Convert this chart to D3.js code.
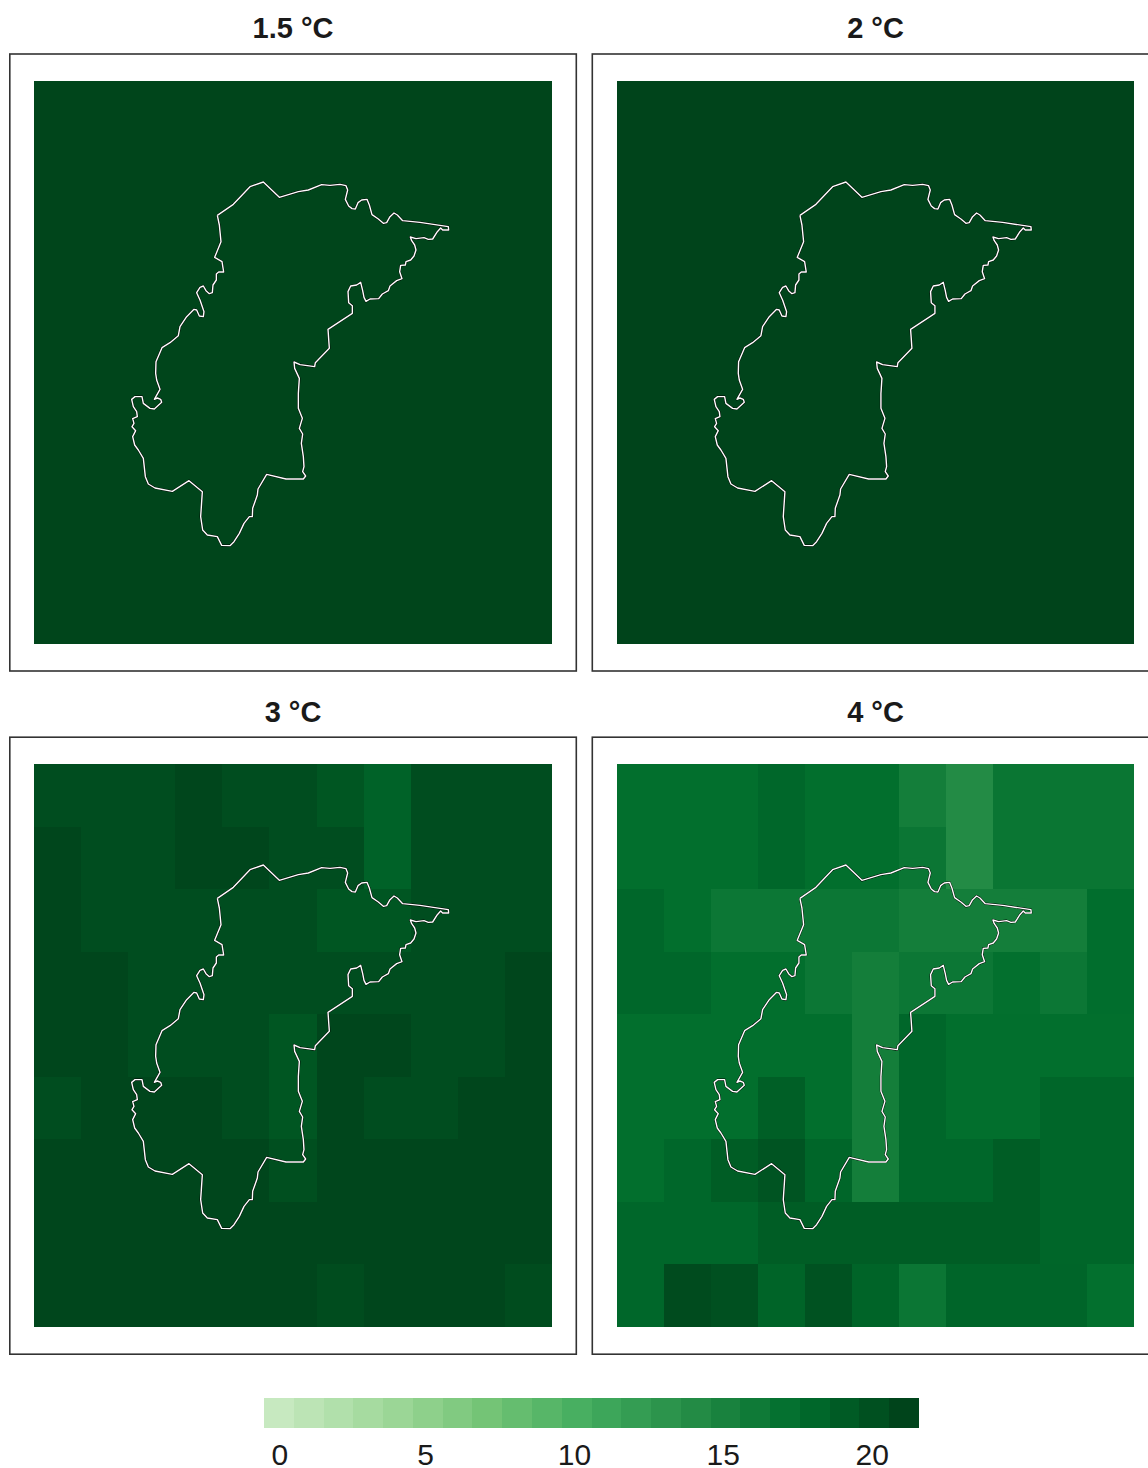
<!DOCTYPE html>
<html>
<head>
<meta charset="utf-8">
<script src="https://cdn.jsdelivr.net/npm/d3@7"></script>
<style>
  html, body { margin: 0; padding: 0; background: #fff; }
  svg { display: block; }
  text { font-family: "Liberation Sans", Arial, sans-serif; fill: #1a1a1a; }
</style>
</head>
<body>
<div id="chart"></div>
<script>
// panel titles
var titles = ["1.5 °C", "2 °C", "3 °C", "4 °C"];

// grid values, 9 rows of 11 cells
var grid15 = [
  [20.9,20.9,20.9,20.9,20.9,20.9,20.9,20.9,20.9,20.9,20.9],
  [20.9,20.9,20.9,20.9,20.9,20.9,20.9,20.9,20.9,20.9,20.9],
  [20.9,20.9,20.9,20.9,20.9,20.9,20.9,20.9,20.9,20.9,20.9],
  [20.9,20.9,20.9,20.9,20.9,20.9,20.9,20.9,20.9,20.9,20.9],
  [20.9,20.9,20.9,20.9,20.9,20.9,20.9,20.9,20.9,20.9,20.9],
  [20.9,20.9,20.9,20.9,20.9,20.9,20.9,20.9,20.9,20.9,20.9],
  [20.9,20.9,20.9,20.9,20.9,20.9,20.9,20.9,20.9,20.9,20.9],
  [20.9,20.9,20.9,20.9,20.9,20.9,20.9,20.9,20.9,20.9,20.9],
  [20.9,20.9,20.9,20.9,20.9,20.9,20.9,20.9,20.9,20.9,20.9]
];
var grid2 = [
  [21,21,21,21,21,21,21,21,21,21,21],
  [21,21,21,21,21,21,21,21,21,21,21],
  [21,21,21,21,21,21,21,21,21,21,21],
  [21,21,21,21,21,21,21,21,21,21,21],
  [21,21,21,21,21,21,21,21,21,21,21],
  [21,21,21,21,21,21,21,21,21,21,21],
  [21,21,21,21,21,21,21,21,21,21,21],
  [21,21,21,21,21,21,21,21,21,21,21],
  [21,21,21,21,21,21,21,21,21,21,21]
];
var grid3 = [
  [20.2,20.2,20.2,20.8,20.2,20.2,19.5,18.4,20.2,20.2,20.2],
  [20.8,20.2,20.2,20.8,20.8,20.2,20.2,18.4,20.2,20.2,20.2],
  [20.8,20.2,20.2,20.2,20.2,20.2,19.5,19.5,20.2,20.2,20.2],
  [20.8,20.8,20.2,20.2,20.2,20.2,20.2,20.2,20.2,20.2,20.8],
  [20.8,20.8,20.2,20.2,20.2,19.5,20.8,20.8,20.2,20.2,20.8],
  [20.2,20.8,20.8,20.8,20.2,19.5,20.8,20.2,20.2,20.8,20.8],
  [20.8,20.8,20.8,20.8,20.8,20.1,20.8,20.8,20.8,20.8,20.8],
  [20.8,20.8,20.8,20.8,20.8,20.8,20.8,20.8,20.8,20.8,20.8],
  [20.8,20.8,20.8,20.8,20.8,20.8,20.3,20.8,20.8,20.8,20.3]
];
var grid4 = [
  [17.3,17.3,17.3,18,17.3,17.3,15.5,14,16.5,16.5,16.5],
  [17.3,17.3,17.3,18,17.3,17.3,16.4,14,16.5,16.5,16.5],
  [18,17.3,16.3,16.3,16.3,16.3,15.5,15.5,15.5,15.5,17.4],
  [18,18,17.3,17.3,16.3,15.5,16.3,16.3,17.2,16.3,17.4],
  [17.3,17.3,17.3,17.3,17.3,15.5,18,17.3,17.3,17.3,17.3],
  [17.3,17.3,17.3,18.7,17.3,15.5,18,17.3,17.3,18.1,18.1],
  [17.3,18,18.9,19.6,18.1,15.5,18,18,18.9,18.1,18.1],
  [18,18,18,18.9,18.9,18.9,18.9,18.9,18.9,18.1,18.1],
  [18,20.4,20,18.3,19.8,18.3,16.4,18.2,18.2,18.2,17.2]
];
var grids = [grid15, grid2, grid3, grid4];

// study area boundary, map units east and south of the grid corner
var outline = [
  [550,403],[598,370],[648,317],[688,303],[736,349],[793,332],[823,327],[863,311],[888,313],[918,310],
  [936,314],[941,327],[934,355],[944,375],[954,383],[964,384],[972,365],[983,357],[999,355],[1006,372],
  [1014,401],[1033,414],[1048,427],[1058,425],[1068,407],[1080,396],[1090,402],[1106,419],[1158,424],[1243,437],
  [1244,447],[1226,447],[1220,441],[1210,452],[1196,474],[1183,475],[1170,470],[1146,473],[1129,468],[1133,479],
  [1142,492],[1146,507],[1140,525],[1130,537],[1116,542],[1114,552],[1100,553],[1097,572],[1104,593],[1088,599],
  [1068,615],[1063,629],[1045,639],[1034,653],[1008,654],[996,661],[990,649],[986,629],[980,604],[968,612],
  [950,615],[942,632],[944,665],[955,674],[955,697],[882,745],[886,802],[844,845],[842,857],[798,851],
  [780,843],[782,862],[796,892],[793,937],[793,982],[805,1012],[796,1042],[806,1059],[802,1087],[808,1127],
  [810,1157],[806,1172],[815,1185],[808,1194],[756,1194],[698,1180],[672,1224],[670,1242],[656,1282],[655,1307],
  [646,1307],[630,1327],[616,1357],[600,1382],[588,1394],[563,1393],[550,1367],[520,1362],[506,1347],[500,1307],
  [505,1232],[465,1199],[415,1231],[363,1221],[343,1209],[334,1187],[328,1132],[313,1107],[302,1092],[296,1067],
  [305,1049],[294,1037],[300,1027],[296,1013],[310,1007],[308,992],[298,977],[293,955],[303,947],[324,947],
  [328,967],[348,982],[361,984],[383,964],[380,955],[370,951],[361,955],[378,925],[368,897],[365,877],
  [366,842],[384,800],[408,785],[433,764],[438,737],[458,707],[480,685],[488,687],[496,705],[508,707],
  [510,692],[498,657],[488,635],[498,619],[508,615],[516,629],[526,638],[535,635],[537,612],[547,597],
  [547,579],[554,573],[569,573],[564,542],[542,529],[561,482],[556,432],[550,403]
];

// colour ramp and legend
var rampColors = ["#C7E9C0", "#A1D99B", "#74C476", "#41AB5D", "#238B45", "#006D2C", "#00441B"];
var legendBins = d3.range(0, 22);
var legendTicks = [0, 5, 10, 15, 20];

var totalWidth = 1148, totalHeight = 1468;
var panelWidth = 566.5, panelHeight = 617;
var panelLeft = [9.8, 592.3], panelTop = [54, 737.2];
var titleBase = [37.7, 721.7];
var mapLeft = [34, 616.6], mapTop = [81, 764];
var mapWidths = [518, 517.4], mapHeight = 563;

var svg = d3.select("#chart").append("svg")
    .attr("width", totalWidth)
    .attr("height", totalHeight);

var color = d3.scaleSequential()
    .domain([0, 21])
    .interpolator(d3.piecewise(d3.interpolateRgb, rampColors));

// cell scale for rows, columns differ slightly per panel column
var y = d3.scaleBand().domain(d3.range(9)).range([0, mapHeight]);

// boundary scales
var east = d3.scaleLinear().domain([0, 1554]).range([0, 518]);
var south = d3.scaleLinear().domain([0, 1689]).range([0, mapHeight]);
var line = d3.line()
    .x(function(d) { return east(d[0]); })
    .y(function(d) { return south(d[1]); });

titles.forEach(function(title, i) {
  var col = i % 2, row = Math.floor(i / 2);
  var x = d3.scaleBand().domain(d3.range(11)).range([0, mapWidths[col]]);

  svg.append("text")
      .attr("x", panelLeft[col] + panelWidth / 2)
      .attr("y", titleBase[row])
      .attr("text-anchor", "middle")
      .style("font-size", "29px")
      .style("font-weight", "bold")
      .text(title);

  svg.append("rect")
      .attr("x", panelLeft[col])
      .attr("y", panelTop[row])
      .attr("width", panelWidth)
      .attr("height", panelHeight)
      .attr("fill", "none")
      .attr("stroke", "#333")
      .attr("stroke-width", 1.6);

  var map = svg.append("g")
      .attr("transform", "translate(" + mapLeft[col] + "," + mapTop[row] + ")");

  var rows = map.selectAll(".row")
      .data(grids[i])
      .enter().append("g")
      .attr("class", "row")
      .attr("transform", function(d, r) { return "translate(0," + y(r) + ")"; });

  rows.selectAll("rect")
      .data(function(d) { return d; })
      .enter().append("rect")
      .attr("x", function(d, c) { return x(c); })
      .attr("width", x.bandwidth())
      .attr("height", y.bandwidth())
      .attr("shape-rendering", "crispEdges")
      .attr("fill", function(d) { return color(d); });

  // dark casing under the white line
  map.append("path")
      .datum(outline)
      .attr("d", line)
      .attr("fill", "none")
      .attr("stroke", "#000")
      .attr("stroke-width", 2.2)
      .attr("stroke-linejoin", "round");

  map.append("path")
      .datum(outline)
      .attr("d", line)
      .attr("fill", "none")
      .attr("stroke", "#fff")
      .attr("stroke-width", 1.4)
      .attr("stroke-linejoin", "round");
});

// legend
var legendX = d3.scaleLinear().domain([-0.5, 21.5]).range([264, 919]);

svg.append("g")
    .attr("class", "legend")
    .selectAll("rect")
    .data(legendBins)
    .enter().append("rect")
    .attr("x", function(d) { return legendX(d - 0.5); })
    .attr("y", 1398)
    .attr("width", function(d) { return legendX(d + 0.5) - legendX(d - 0.5); })
    .attr("height", 30)
    .attr("shape-rendering", "crispEdges")
    .attr("fill", function(d) { return color(d); });

var legendAxis = d3.axisBottom(legendX)
    .tickValues(legendTicks)
    .tickSize(0)
    .tickPadding(0);

var axisG = svg.append("g")
    .attr("transform", "translate(0,1465)")
    .call(legendAxis);

axisG.select(".domain").remove();
axisG.selectAll("text")
    .style("font-family", '"Liberation Sans", Arial, sans-serif')
    .style("font-size", "30px")
    .attr("dy", 0)
    .attr("dx", function(d) { return d === 0 ? 0.4 : -2.7; })
    .style("fill", "#1a1a1a");
</script>
</body>
</html>
